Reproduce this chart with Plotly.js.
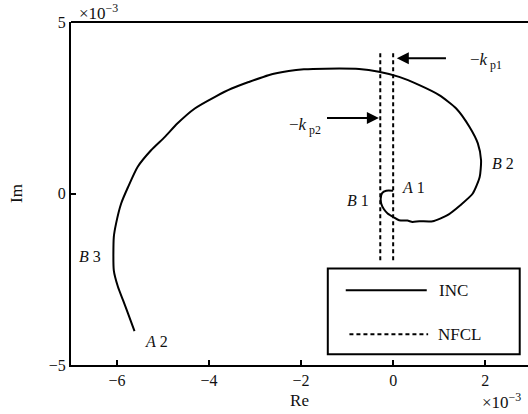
<!DOCTYPE html>
<html>
<head>
<meta charset="utf-8">
<script src="https://cdn.plot.ly/plotly-3.0.1.min.js"></script>
<style>
  html, body { margin: 0; padding: 0; background: #fff; }
  #chart { width: 528px; height: 414px; }
</style>
</head>
<body>
<div id="chart"></div>
<script>
// Nyquist locus of the inverter (INC), in units of 1e-3
const incRe = [0.00, -0.15, -0.24, -0.27, -0.26, -0.20, -0.12, 0.02, 0.13, 0.31, 0.42, 0.57, 0.86,
  1.18, 1.46, 1.73, 1.88, 1.91, 1.84, 1.66, 1.37, 1.00, 0.57, 0.13, -0.31, -0.74, -1.47, -1.94,
  -2.27, -2.71, -3.14, -3.51, -3.87, -4.31, -4.69, -4.96, -5.26, -5.55, -5.76, -5.91, -6.02,
  -6.07, -6.07, -5.98, -5.87, -5.76, -5.62];
const incIm = [0.08, 0.08, 0.01, -0.14, -0.29, -0.46, -0.58, -0.70, -0.78, -0.79, -0.83, -0.81, -0.81,
  -0.63, -0.34, 0.00, 0.48, 0.97, 1.46, 1.94, 2.48, 2.87, 3.16, 3.40, 3.55, 3.63, 3.64, 3.62,
  3.57, 3.45, 3.25, 3.06, 2.82, 2.48, 2.04, 1.65, 1.26, 0.78, 0.19, -0.29, -0.87,
  -1.27, -2.24, -2.72, -3.11, -3.50, -4.01];

// Critical points -kp1 and -kp2 of the NFCL criterion
const kpRe = [0.0, -0.28];
const kpImTop = 4.09;
const kpImBottom = -2.0;

// Point labels along the locus
const pointNames = ['A', 'B', 'B', 'B', 'A'];
const pointIdx = ['1', '1', '2', '3', '2'];
const pointRe = [0.44, -0.76, 2.38, -6.58, -5.15];
const pointIm = [0.18, -0.20, 0.88, -1.83, -4.31];

// Axes
const xTicks = [-6, -4, -2, 0, 2];
const yTicks = [-5, 0, 5];
const xRange = [-7, 2.93];
const yRange = [-5, 5];

const serif = 'Liberation Serif, Times New Roman, serif';
const ink = '#111';

const traces = [
  {
    x: incRe, y: incIm, name: 'INC', type: 'scatter', mode: 'lines',
    line: { color: '#000', width: 2, shape: 'spline', smoothing: 0.6 }, hoverinfo: 'skip'
  }
];
kpRe.forEach((k, i) => {
  traces.push({
    x: [k, k], y: [kpImTop, kpImBottom], name: 'NFCL', type: 'scatter', mode: 'lines',
    line: { color: '#000', width: 2, dash: '4px,3px' }, hoverinfo: 'skip'
  });
});

const annotations = [];
pointNames.forEach((n, i) => {
  annotations.push({
    x: pointRe[i], y: pointIm[i], xref: 'x', yref: 'y', showarrow: false,
    text: '<i>' + n + '</i> ' + pointIdx[i],
    font: { family: serif, size: 16, color: ink }, xanchor: 'center', yanchor: 'middle'
  });
});

// Arrows pointing at -kp1 and -kp2
annotations.push({
  x: kpRe[0] + 0.08, y: 3.94, ax: 1.18, ay: 3.94, xref: 'x', yref: 'y', axref: 'x', ayref: 'y',
  text: '', showarrow: true, arrowhead: 2, arrowsize: 1.2, arrowwidth: 2, arrowcolor: '#000'
});
annotations.push({
  x: kpRe[1] - 0.03, y: 2.20, ax: -1.47, ay: 2.20, xref: 'x', yref: 'y', axref: 'x', ayref: 'y',
  text: '', showarrow: true, arrowhead: 2, arrowsize: 1.2, arrowwidth: 2, arrowcolor: '#000'
});
annotations.push({
  x: 1.62, y: 3.86, xref: 'x', yref: 'y', showarrow: false, xanchor: 'left', yanchor: 'middle',
  text: '\u2212<i>k</i><sub> p1</sub>', font: { family: serif, size: 17, color: ink }
});
annotations.push({
  x: -2.31, y: 1.98, xref: 'x', yref: 'y', showarrow: false, xanchor: 'left', yanchor: 'middle',
  text: '\u2212<i>k</i><sub> p2</sub>', font: { family: serif, size: 17, color: ink }
});

// Exponent markers
annotations.push({
  x: 0.014, y: 0.99, xref: 'paper', yref: 'paper', showarrow: false, xanchor: 'left', yanchor: 'bottom',
  text: '\u00d710<sup>\u22123</sup>', font: { family: serif, size: 17, color: ink }
});
annotations.push({
  x: 0.99, y: -0.066, xref: 'paper', yref: 'paper', showarrow: false, xanchor: 'right', yanchor: 'top',
  text: '\u00d710<sup>\u22123</sup>', font: { family: serif, size: 17, color: ink }
});

// Legend entries
annotations.push({
  x: 0.96, y: -2.82, xref: 'x', yref: 'y', showarrow: false, xanchor: 'left', yanchor: 'middle',
  text: 'INC', font: { family: serif, size: 17, color: ink }
});
annotations.push({
  x: 0.93, y: -4.10, xref: 'x', yref: 'y', showarrow: false, xanchor: 'left', yanchor: 'middle',
  text: 'NFCL', font: { family: serif, size: 17, color: ink }
});

const shapes = [
  // top frame line
  { type: 'line', xref: 'paper', yref: 'paper', x0: 0, x1: 1, y0: 1, y1: 1, line: { color: '#000', width: 2 } },
  // legend box
  { type: 'rect', xref: 'x', yref: 'y', x0: -1.42, x1: 2.75, y0: -4.69, y1: -2.19,
    fillcolor: '#fff', line: { color: '#000', width: 2 }, layer: 'above' },
  { type: 'line', xref: 'x', yref: 'y', x0: -1.03, x1: 0.73, y0: -2.82, y1: -2.82,
    line: { color: '#000', width: 2 }, layer: 'above' },
  { type: 'line', xref: 'x', yref: 'y', x0: -0.95, x1: 0.76, y0: -4.10, y1: -4.10,
    line: { color: '#000', width: 2, dash: '4px,3px' }, layer: 'above' }
];

const layout = {
  width: 528, height: 414,
  margin: { l: 71, r: 0, t: 22, b: 49 },
  paper_bgcolor: '#fff', plot_bgcolor: '#fff',
  showlegend: false,
  font: { family: serif, size: 16, color: ink },
  xaxis: {
    range: xRange, tickvals: xTicks, ticktext: xTicks.map(v => v < 0 ? '\u2212' + Math.abs(v) : String(v)),
    showgrid: false, zeroline: false, showline: true, linecolor: '#000', linewidth: 2,
    ticks: 'inside', ticklen: 5, tickwidth: 2, tickcolor: '#000',
    tickfont: { family: serif, size: 16, color: ink },
    title: { text: 'Re', font: { family: serif, size: 17, color: ink }, standoff: 6 }
  },
  yaxis: {
    range: yRange, tickvals: yTicks, ticktext: yTicks.map(v => v < 0 ? '\u2212' + Math.abs(v) : String(v)),
    showgrid: false, zeroline: false, showline: true, linecolor: '#000', linewidth: 2,
    ticks: 'inside', ticklen: 5, tickwidth: 2, tickcolor: '#000',
    tickfont: { family: serif, size: 16, color: ink },
    title: { text: 'Im', font: { family: serif, size: 17, color: ink }, standoff: 22 }
  },
  annotations: annotations,
  shapes: shapes
};

Plotly.newPlot('chart', traces, layout, { staticPlot: true, displayModeBar: false });
</script>
</body>
</html>
